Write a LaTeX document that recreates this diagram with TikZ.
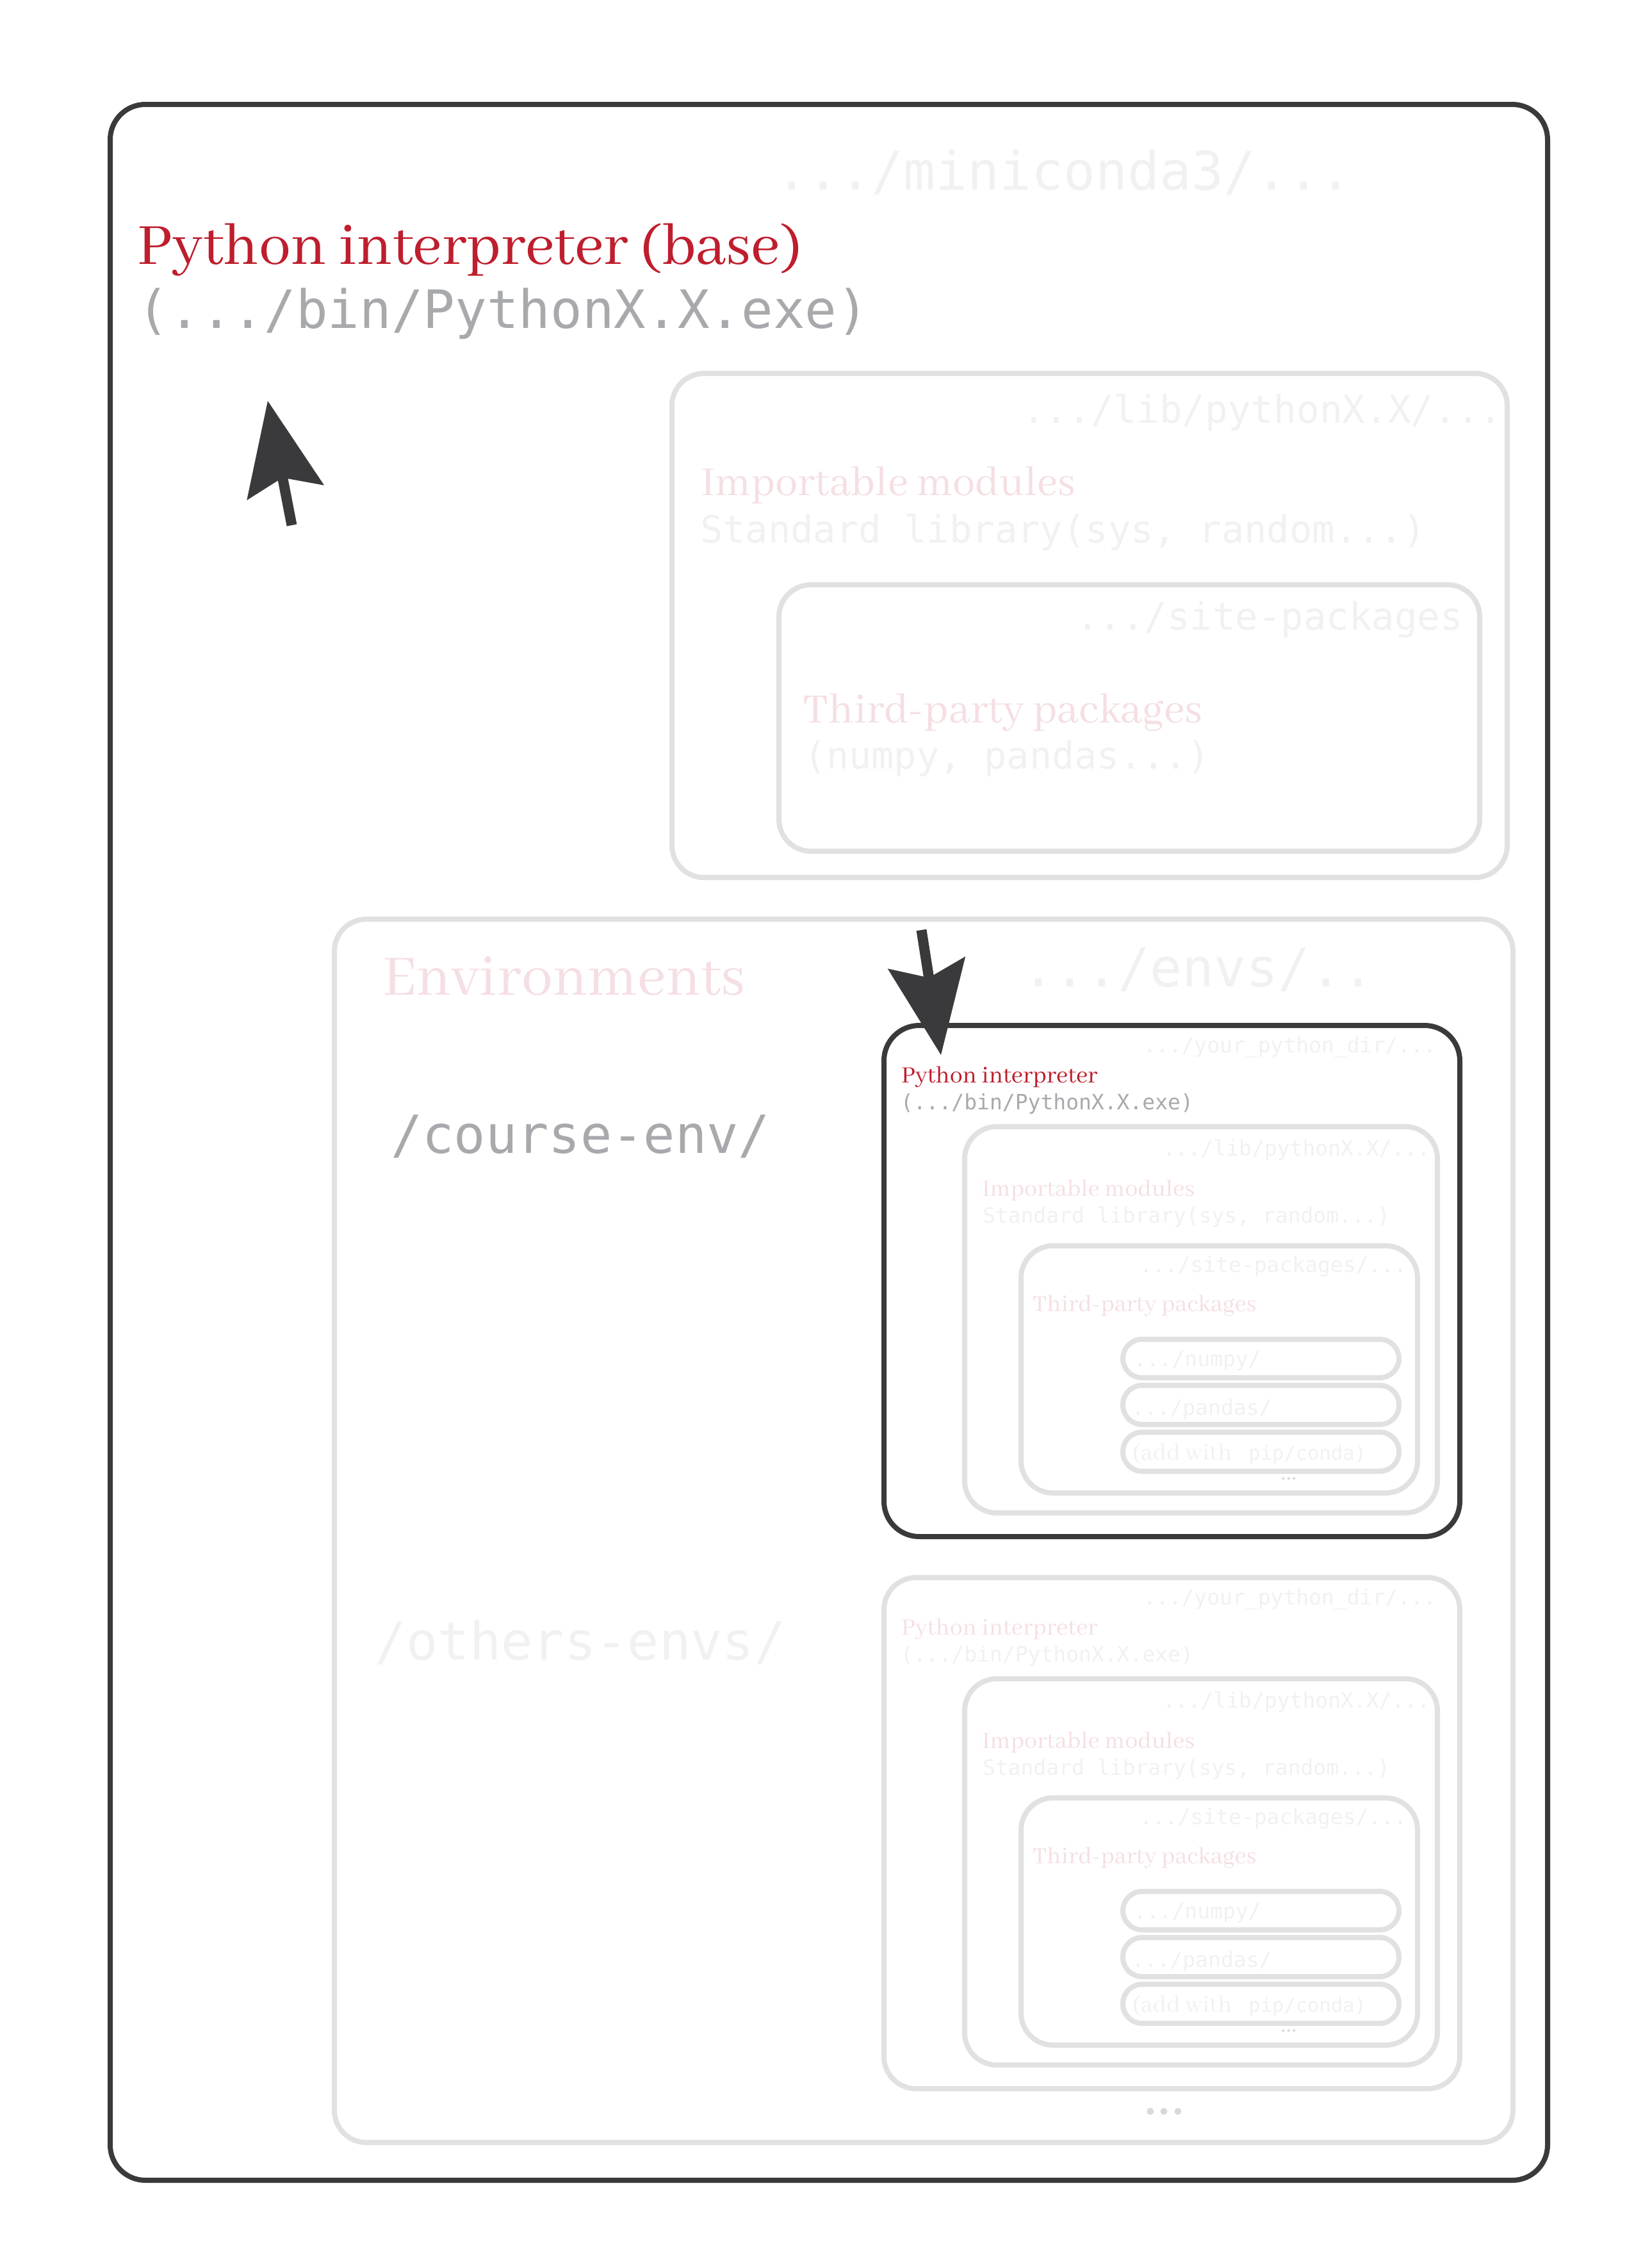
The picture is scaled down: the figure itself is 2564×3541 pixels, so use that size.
\documentclass[tikz,border=0pt]{standalone}
\usepackage{fontspec}
\setmainfont{Abhaya Libre}
\setmonofont{DejaVu Sans Mono}
\newfontfamily\dotfont{Carlito}
\usetikzlibrary{arrows.meta}
\definecolor{darkline}{HTML}{3A3A3C}
\definecolor{paleline}{HTML}{E1E1E2}
\definecolor{dotgrey}{HTML}{D8D8D9}
\definecolor{redtext}{HTML}{BE1E2D}
\definecolor{pinktext}{HTML}{F5DFE2}
\definecolor{greytext}{HTML}{A7A9AC}
\definecolor{fainttext}{HTML}{F1F1F2}
\tikzset{
  boxpale/.style={draw=paleline,line width=0.8pt,rounded corners=5pt,inner sep=0pt,outer sep=0pt},
  boxdark/.style={draw=darkline,line width=0.8pt,rounded corners=5.5pt,inner sep=0pt,outer sep=0pt},
  boxsmall/.style={draw=paleline,line width=0.8pt,rounded corners=3pt,inner sep=0pt,outer sep=0pt},
  lbl/.style={anchor=base west,inner sep=0pt,outer sep=0pt},
  bigarrow/.style={draw=darkline,fill=darkline,line width=1.6pt,-{Stealth[length=14.6pt,width=12.3pt,inset=2.4pt,line width=0pt]}},
}
\newcommand{\rbox}[6]{\node[#2,minimum width={(#5-#3)*0.1pt},minimum height={(#6-#4)*0.1pt}] (#1) at ({(#3+#5)/2},{(#4+#6)/2}) {};}
\newcommand{\rtext}[7]{\node[lbl,text=#2] (#1) at (#3,#4) {\fontsize{#5pt}{#5pt}#6\selectfont #7};}
\newcommand{\envgroup}[5]{%
\begin{scope}[shift={(0,#2)},name prefix=#1-]
\rbox{py}{#3}{1380}{1601}{2279}{2399}
\rbox{lib}{boxpale}{1506}{1759}{2244}{2362}
\rbox{site}{boxpale}{1594}{1945}{2213}{2331}
\rbox{numpy}{boxsmall}{1753}{2091}{2184}{2151}
\rbox{pandas}{boxsmall}{1753}{2163}{2184}{2224}
\rbox{add}{boxsmall}{1753}{2236}{2184}{2297}
\rtext{tdir}{fainttext}{1785}{1643}{3.3}{\ttfamily}{.../your\_python\_dir/...}
\rtext{tpy}{#4}{1407}{1690}{4.0}{\rmfamily}{Python interpreter}
\rtext{tbin}{#5}{1406}{1732}{3.3}{\ttfamily}{(.../bin/PythonX.X.exe)}
\rtext{tlib}{fainttext}{1815}{1804}{3.3}{\ttfamily}{.../lib/pythonX.X/...}
\rtext{timp}{pinktext}{1533}{1867}{4.0}{\rmfamily}{Importable modules}
\rtext{tstd}{fainttext}{1534}{1909}{3.3}{\ttfamily}{Standard library(sys, random...)}
\rtext{tsite}{fainttext}{1779}{1986}{3.3}{\ttfamily}{.../site-packages/...}
\rtext{tthird}{pinktext}{1612}{2047}{4.0}{\rmfamily}{Third-party packages}
\rtext{tnumpy}{fainttext}{1770}{2133}{3.3}{\ttfamily}{.../numpy/}
\rtext{tpandas}{fainttext}{1767}{2209}{3.3}{\ttfamily}{.../pandas/}
\rtext{tadd}{fainttext}{1768}{2279}{4.0}{\rmfamily}{(add with\hspace{2.6pt}{\fontsize{3.05pt}{3.05pt}\ttfamily\selectfont pip/conda)}}
\rtext{tdots}{dotgrey}{1999}{2310}{3.4}{\dotfont}{...}
\end{scope}}
\begin{document}
\begin{tikzpicture}[x=0.1pt,y=-0.1pt]
\useasboundingbox (0,0) rectangle (2564,3541);
\rbox{outer}{boxdark}{172}{163}{2416}{3404}
\rbox{libb}{boxpale}{1049}{583}{2353}{1370}
\rbox{siteb}{boxpale}{1216}{913}{2310}{1329}
\rbox{envb}{boxpale}{522}{1435}{2362}{3345}
\rtext{minic}{fainttext}{1211}{296}{8.3}{\ttfamily}{.../miniconda3/...}
\rtext{base}{redtext}{215}{412}{10}{\rmfamily}{Python interpreter (base)}
\rtext{bin}{greytext}{214}{512}{8.25}{\ttfamily}{(.../bin/PythonX.X.exe)}
\rtext{tlibb}{fainttext}{1596}{660}{5.93}{\ttfamily}{.../lib/pythonX.X/...}
\rtext{timpb}{pinktext}{1094}{773}{7.05}{\rmfamily}{Importable modules}
\rtext{tstdb}{fainttext}{1093}{847}{5.88}{\ttfamily}{Standard library(sys, random...)}
\rtext{tsiteb}{fainttext}{1680}{983}{5.9}{\ttfamily}{.../site-packages}
\rtext{tthirdb}{pinktext}{1253}{1128}{7.15}{\rmfamily}{Third-party packages}
\rtext{tnum}{fainttext}{1255}{1200}{5.85}{\ttfamily}{(numpy, pandas...)}
\rtext{tenv}{pinktext}{597}{1553}{9.8}{\rmfamily}{Environments}
\rtext{tenvs}{fainttext}{1596}{1540}{8.3}{\ttfamily}{.../envs/..}
\rtext{tcourse}{greytext}{610}{1800}{8.2}{\ttfamily}{/course-env/}
\rtext{tothers}{fainttext}{585}{2591}{8.2}{\ttfamily}{/others-envs/}
\envgroup{a}{0}{boxdark}{redtext}{greytext}
\envgroup{b}{862}{boxpale}{pinktext}{fainttext}
\rtext{enddots}{dotgrey}{1785}{3301}{8.7}{\dotfont}{...}
\coordinate (up tail) at (455.5,820);
\coordinate (up tip) at (418,626);
\coordinate (down tail) at (1438.5,1452);
\coordinate (down tip) at (1469,1647);
\draw[bigarrow] (up tail) -- (up tip);
\draw[bigarrow] (down tail) -- (down tip);
\end{tikzpicture}
\end{document}
